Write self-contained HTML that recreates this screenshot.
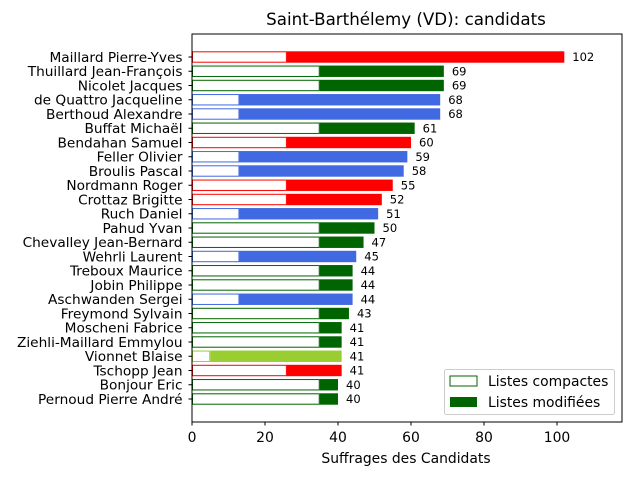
<!DOCTYPE html>
<html><head><meta charset="utf-8"><style>
html,body{margin:0;padding:0;background:#fff}
svg{display:block;font-family:"DejaVu Sans","Liberation Sans",sans-serif}
</style></head><body>
<svg id="chart" width="640" height="480" viewBox="0 0 640 480">
<text x="406" y="25" font-size="16.7" text-anchor="middle" fill="#000">Saint-Barthélemy (VD): candidats</text>
<g id="bars"></g>
<g id="labels"></g>
<g id="yaxis"></g>
<g id="xaxis"></g>
<rect x="192" y="34" width="430" height="388" fill="none" stroke="#000" stroke-width="1"/>
<text x="406" y="463" font-size="13.9" text-anchor="middle">Suffrages des Candidats</text>
<g>
<rect x="444.5" y="369.5" width="170" height="45" rx="2" fill="#fff" fill-opacity="0.8" stroke="#ccc"/>
<rect x="450" y="376" width="27" height="10" fill="#fff" stroke="#006400" stroke-width="1"/>
<text x="488" y="386" font-size="13.9">Listes compactes</text>
<rect x="450" y="397" width="27" height="10" fill="#006400"/>
<text x="488" y="407" font-size="13.9">Listes modifiées</text>
</g>
</svg>
<script>
const candidates=["Maillard Pierre-Yves","Thuillard Jean-François","Nicolet Jacques","de Quattro Jacqueline","Berthoud Alexandre","Buffat Michaël","Bendahan Samuel","Feller Olivier","Broulis Pascal","Nordmann Roger","Crottaz Brigitte","Ruch Daniel","Pahud Yvan","Chevalley Jean-Bernard","Wehrli Laurent","Treboux Maurice","Jobin Philippe","Aschwanden Sergei","Freymond Sylvain","Moscheni Fabrice","Ziehli-Maillard Emmylou","Vionnet Blaise","Tschopp Jean","Bonjour Eric","Pernoud Pierre André"];
const totals=[102,69,69,68,68,61,60,59,58,55,52,51,50,47,45,44,44,44,43,41,41,41,41,40,40];
const compact=[26,35,35,13,13,35,26,13,13,26,26,13,35,35,13,35,35,13,35,35,35,5,26,35,35];
const colors=["red","#006400","#006400","royalblue","royalblue","#006400","red","royalblue","royalblue","red","red","royalblue","#006400","#006400","royalblue","#006400","#006400","royalblue","#006400","#006400","#006400","yellowgreen","red","#006400","#006400"];
const xTicks=[0,20,40,60,80,100];
const NS="http://www.w3.org/2000/svg";
const X0=192,PX=3.65,Y0=57,DY=14.25,BH=11.4;
const xs=v=>X0+v*PX, ys=i=>Y0+i*DY;
function mk(t,a){const e=document.createElementNS(NS,t);for(const k in a)e.setAttribute(k,a[k]);return e;}
const bars=document.getElementById('bars'),labels=document.getElementById('labels'),ya=document.getElementById('yaxis'),xa=document.getElementById('xaxis');
candidates.forEach((n,i)=>{
 const y=ys(i);
 const c=mk('rect',{x:xs(0)+0.5,y:y-BH/2+0.5,width:xs(compact[i])-xs(0)-1,height:BH-1,fill:'#fff',stroke:colors[i],'stroke-width':1});
 
 
 bars.appendChild(c);
 const m=mk('rect',{x:xs(compact[i]),y:y-BH/2,width:xs(totals[i])-xs(compact[i]),height:BH,fill:colors[i]});
 
 
 bars.appendChild(m);
 const l=mk('text',{x:xs(totals[i])+8,y:y+4,'font-size':11.5});
 l.textContent=totals[i];
 
 
 labels.appendChild(l);
 ya.appendChild(mk('line',{x1:X0-3.5,x2:X0,y1:y,y2:y,stroke:'#000'}));
 const t=mk('text',{x:X0-9.5,y:y+4.8,'font-size':13.7,'text-anchor':'end'});
 t.textContent=n;
 
 
 ya.appendChild(t);
});
xTicks.forEach(v=>{
 const x=xs(v);
 xa.appendChild(mk('line',{x1:x,x2:x,y1:422,y2:425.5,stroke:'#000'}));
 const t=mk('text',{x:x,y:442,'font-size':13.9,'text-anchor':'middle'});
 t.textContent=v;
 
 
 xa.appendChild(t);
});
</script>
</body></html>
